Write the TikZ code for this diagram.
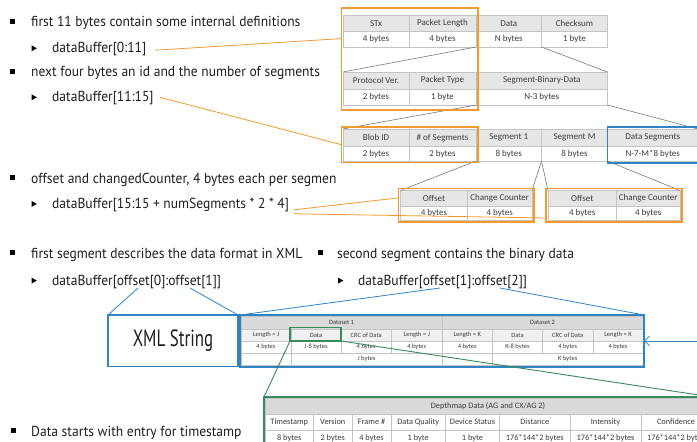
\documentclass[tikz,border=0pt]{standalone}
\usepackage{fontspec}
\setmainfont{PT Sans}[FakeStretch=0.935]
\newfontfamily\xmlfont{PT Sans}[FakeStretch=0.72]
\newfontfamily\tabfont{Carlito}
\usetikzlibrary{calc,arrows.meta}
\definecolor{og}{HTML}{F39A2E}
\definecolor{bl}{HTML}{2F84C4}
\definecolor{gn}{HTML}{3A8A5E}
\definecolor{cellgray}{HTML}{C4C4C4}
\definecolor{hdgray}{HTML}{E6E6E6}
\definecolor{hdgray2}{HTML}{DADADA}
\definecolor{rowgray}{HTML}{F0F0F0}
\definecolor{txtgray}{HTML}{3C3C3C}
\definecolor{lngray}{HTML}{7A7A7A}
\definecolor{bodytxt}{HTML}{1E1E1E}
\newcommand\tcell[7]{%
  \node[#7, minimum width={(#4-#2)*1pt}, minimum height={(#5-#3)*1pt}, anchor=north west] (#1) at (#2,#3) {#6};}
\newcommand\bsq[2]{\fill (#1-2.5,#2-2.5) rectangle (#1+2.5,#2+2.5);}
\newcommand\btri[2]{\fill (#1-2.5,#2-3) -- (#1+2.8,#2) -- (#1-2.5,#2+3) -- cycle;}
\begin{document}
\begin{tikzpicture}[x=1pt,y=-1pt,
  cell/.style={draw=cellgray, line width=0.5pt, inner sep=0pt, outer sep=0pt, text=txtgray, font=\tabfont\fontsize{9}{10}\selectfont},
  hd/.style={cell, fill=hdgray},
  vl/.style={cell, fill=white},
  shd/.style={cell, fill=hdgray2, font=\tabfont\fontsize{6.5}{7}\selectfont},
  srw/.style={cell, fill=rowgray, font=\tabfont\fontsize{6.5}{7}\selectfont},
  svl/.style={cell, fill=white, font=\tabfont\fontsize{6.5}{7}\selectfont},
  dhd/.style={cell, fill=hdgray2, font=\tabfont\fontsize{8.3}{9}\selectfont},
  dvl/.style={cell, fill=white, font=\tabfont\fontsize{8.3}{9}\selectfont},
  obox/.style={draw=og, line width=1.3pt, inner sep=0pt, outer sep=0pt},
  bbox/.style={draw=bl, line width=1.5pt, inner sep=0pt, outer sep=0pt},
  gbox/.style={draw=gn, line width=1.3pt, inner sep=0pt, outer sep=0pt},
  btext/.style={inner sep=0pt, anchor=base west, text=bodytxt, font=\fontsize{14.5}{16}\selectfont},
  gl/.style={draw=lngray, line width=0.6pt},
  ol/.style={draw=og, line width=0.8pt},
  bll/.style={draw=bl, line width=0.8pt},
  gnl/.style={draw=gn, line width=0.9pt}]
\useasboundingbox (0,0) rectangle (697,442);
\clip (0,0) rectangle (697,442);
\fill[white] (0,0) rectangle (697,442);

% ---------- bullet texts ----------
\node[btext] (b1) at (31,26.7) {first 11 bytes contain some internal definitions};
\node[btext] (s1) at (52,52.7) {dataBuffer[0:11]};
\node[btext] (b2) at (31,76.7) {next four bytes an id and the number of segments};
\node[btext] (s2) at (52,101.7) {dataBuffer[11:15]};
\node[btext] (b3) at (31,183.3) {offset and changedCounter, 4 bytes each per segmen};
\node[btext] (s3) at (52,208.3) {dataBuffer[15:15 + numSegments * 2 * 4]};
\node[btext] (b4) at (31,258.3) {first segment describes the data format in XML};
\node[btext] (s4) at (52,285) {dataBuffer[offset[0]:offset[1]]};
\node[btext] (b5) at (337,258.3) {second segment contains the binary data};
\node[btext] (s5) at (358,285) {dataBuffer[offset[1]:offset[2]]};
\node[btext] (b6) at (31,436) {Data starts with entry for timestamp};
\bsq{12.8}{21}\btri{34}{48.3}
\bsq{12.8}{71}\btri{34}{97.3}
\bsq{12.8}{177.6}\btri{34}{203.9}
\bsq{12.8}{252.6}\btri{34}{280.6}
\bsq{320}{252.6}\btri{340.5}{280.6}
\bsq{13.5}{430.3}

% ---------- table A ----------
\tcell{stx}{343}{15}{409}{31.5}{STx}{hd}
\tcell{plen}{409}{15}{476}{31.5}{Packet Length}{hd}
\tcell{dat}{476}{15}{541.5}{31.5}{Data}{hd}
\tcell{chk}{541.5}{15}{607.5}{31.5}{Checksum}{hd}
\tcell{stxv}{343}{31.5}{409}{47}{4 bytes}{vl}
\tcell{plenv}{409}{31.5}{476}{47}{4 bytes}{vl}
\tcell{datv}{476}{31.5}{541.5}{47}{N bytes}{vl}
\tcell{chkv}{541.5}{31.5}{607.5}{47}{1 byte}{vl}
% ---------- table B ----------
\tcell{pv}{343}{72}{409}{89}{Protocol Ver.}{hd}
\tcell{pt}{409}{72}{476}{89}{Packet Type}{hd}
\tcell{sbd}{476}{72}{607.5}{89}{Segment-Binary-Data}{hd}
\tcell{pvv}{343}{89}{409}{105}{2 bytes}{vl}
\tcell{ptv}{409}{89}{476}{105}{1 byte}{vl}
\tcell{sbdv}{476}{89}{607.5}{105}{N-3 bytes}{vl}
% ---------- table C ----------
\tcell{bid}{343}{129}{409}{146.5}{Blob ID}{hd}
\tcell{nsg}{409}{129}{476}{146.5}{\# of Segments}{hd}
\tcell{sg1}{476}{129}{541.5}{146.5}{Segment 1}{hd}
\tcell{sgm}{541.5}{129}{607.5}{146.5}{Segment M}{hd}
\tcell{dsg}{607.5}{129}{698}{146.5}{Data Segments}{hd}
\tcell{bidv}{343}{146.5}{409}{161}{2 bytes}{vl}
\tcell{nsgv}{409}{146.5}{476}{161}{2 bytes}{vl}
\tcell{sg1v}{476}{146.5}{541.5}{161}{8 bytes}{vl}
\tcell{sgmv}{541.5}{146.5}{607.5}{161}{8 bytes}{vl}
\tcell{dsgv}{607.5}{146.5}{698}{161}{N-7-M*8 bytes}{vl}
% ---------- tables D ----------
\tcell{of1}{400.5}{190.5}{467.5}{206.5}{Offset}{hd}
\tcell{cc1}{467.5}{190.5}{532}{206.5}{Change Counter}{hd}
\tcell{of1v}{400.5}{206.5}{467.5}{220}{4 bytes}{vl}
\tcell{cc1v}{467.5}{206.5}{532}{220}{4 bytes}{vl}
\tcell{of2}{548}{190.5}{616.5}{206.5}{Offset}{hd}
\tcell{cc2}{616.5}{190.5}{680}{206.5}{Change Counter}{hd}
\tcell{of2v}{548}{206.5}{616.5}{220}{4 bytes}{vl}
\tcell{cc2v}{616.5}{206.5}{680}{220}{4 bytes}{vl}

% ---------- gray zoom lines ----------
\draw[gl] (datv.south west) -- (pv.north west);
\draw[gl] (chkv.south west) -- (sbd.north east);
\draw[gl] (sbdv.south west) -- (bid.north west);
\draw[gl] (sbdv.south east) -- (dsg.north east);
\draw[gl] (nsgv.south east) -- (of1.north west);
\draw[gl] (sg1v.south east) -- (cc1.north east);
\draw[gl] (sg1v.south east) -- (of2.north west);
\draw[gl] (sgmv.south east) -- (cc2.north east);

% ---------- highlight boxes ----------
\tcell{ob1}{341.5}{8}{478}{110}{}{obox}
\tcell{ob2}{341.5}{127}{478}{162.5}{}{obox}
\tcell{bb1}{607.5}{127}{700}{163}{}{bbox}
\tcell{od1}{398.5}{188.5}{534}{222}{}{obox}
\tcell{od2}{546}{188.5}{682}{222}{}{obox}

% ---------- dataset table ----------
\tcell{ds1}{241}{316}{442}{329}{Dataset 1}{shd}
\tcell{ds2}{442}{316}{643}{329}{Dataset 2}{shd}
\tcell{lj1}{241}{329}{291}{341.5}{Length = J}{srw}
\tcell{d1}{291}{329}{341}{341.5}{Data}{srw}
\tcell{crc1}{341}{329}{391.5}{341.5}{CRC of Data}{srw}
\tcell{lj2}{391.5}{329}{442}{341.5}{Length = J}{srw}
\tcell{lk1}{442}{329}{492.5}{341.5}{Length = K}{srw}
\tcell{d2}{492.5}{329}{542.5}{341.5}{Data}{srw}
\tcell{crc2}{542.5}{329}{593}{341.5}{CRC of Data}{srw}
\tcell{lk2}{593}{329}{643}{341.5}{Length = K}{srw}
\tcell{lj1v}{241}{341.5}{291}{353}{4 bytes}{svl}
\tcell{d1v}{291}{341.5}{341}{353}{J-8 bytes}{svl}
\tcell{crc1v}{341}{341.5}{391.5}{353}{4 bytes}{svl}
\tcell{lj2v}{391.5}{341.5}{442}{353}{4 bytes}{svl}
\tcell{lk1v}{442}{341.5}{492.5}{353}{4 bytes}{svl}
\tcell{d2v}{492.5}{341.5}{542.5}{353}{K-8 bytes}{svl}
\tcell{crc2v}{542.5}{341.5}{593}{353}{4 bytes}{svl}
\tcell{lk2v}{593}{341.5}{643}{353}{4 bytes}{svl}
\tcell{e1}{241}{353}{291}{365.5}{}{svl}
\tcell{jb}{291}{353}{442}{365.5}{J bytes}{svl}
\tcell{e2}{442}{353}{492.5}{365.5}{}{svl}
\tcell{kb}{492.5}{353}{643}{365.5}{K bytes}{svl}
\tcell{bx}{240}{315}{644}{367}{}{bbox}
\tcell{gd}{290}{327.5}{341}{341}{}{gbox}
\tcell{xb}{108}{315}{238}{366.5}{\xmlfont\fontsize{23.5}{25}\selectfont\color{bodytxt}XML String}{bbox}

% ---------- depthmap table ----------
\tcell{dmh}{265}{398}{711}{414}{Depthmap Data (AG and CX/AG 2)}{dhd}
\tcell{ts}{265}{414}{313.5}{430}{Timestamp}{dvl}
\tcell{ver}{313.5}{414}{352}{430}{Version}{dvl}
\tcell{fr}{352}{414}{391}{430}{Frame \#}{dvl}
\tcell{dq}{391}{414}{445.5}{430}{Data Quality}{dvl}
\tcell{dst}{445.5}{414}{499.5}{430}{Device Status}{dvl}
\tcell{dis}{499.5}{414}{570}{430}{Distance}{dvl}
\tcell{int}{570}{414}{641}{430}{Intensity}{dvl}
\tcell{conf}{641}{414}{711}{430}{Confidence}{dvl}
\tcell{tsv}{265}{430}{313.5}{446}{8 bytes}{dvl}
\tcell{verv}{313.5}{430}{352}{446}{2 bytes}{dvl}
\tcell{frv}{352}{430}{391}{446}{4 bytes}{dvl}
\tcell{dqv}{391}{430}{445.5}{446}{1 byte}{dvl}
\tcell{dstv}{445.5}{430}{499.5}{446}{1 byte}{dvl}
\tcell{disv}{499.5}{430}{570}{446}{176*144*2 bytes}{dvl}
\tcell{intv}{570}{430}{641}{446}{176*144*2 bytes}{dvl}
\tcell{confv}{641}{430}{711}{446}{176*144*2 bytes}{dvl}
\tcell{dm}{264}{397}{712}{450}{}{gbox}

% ---------- orange connectors ----------
\draw[ol] ($(s1.east)+(9,1)$) -- ($(ob1.north west)!0.30!(ob1.south west)$);
\draw[ol] ($(s2.east)+(6,-1)$) -- (ob2.west);
\draw[ol] ($(s3.east)+(5,5)$) -- ($(od1.north west)!0.28!(od1.south west)$);
\draw[ol] ($(s3.east)+(5,9)$) -- ($(od2.north west)!0.88!(od2.south west)$);

% ---------- blue connectors ----------
\coordinate (s4a) at (138,288);
\coordinate (s4b) at (190,288);
\coordinate (s5a) at (440,288);
\coordinate (s5b) at (500,288);
\draw[bll] (s4a) -- (xb.north west);
\draw[bll] (s4b) -- (xb.north east);
\draw[bll] (s5a) -- (bx.north west);
\draw[bll] (s5b) -- (bx.north east);
\coordinate (arr) at (705,341);
\draw[bll, -{Straight Barb[length=5pt,width=10pt]}] (arr) -- (bx.east);

% ---------- green connectors ----------
\draw[gnl] (gd.south west) -- (dm.north west);
\draw[gnl] (gd.south east) -- (dm.north east);
\end{tikzpicture}
\end{document}
